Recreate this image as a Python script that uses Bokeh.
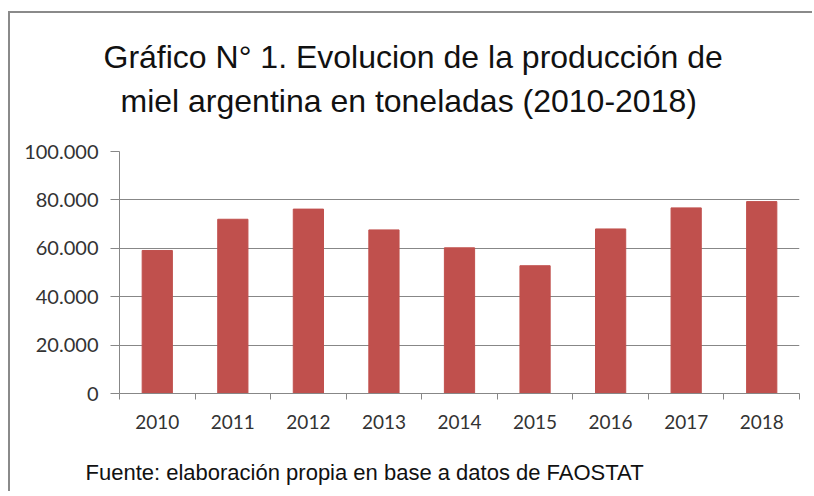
from bokeh.plotting import figure
from bokeh.models import Range1d, FixedTicker, Title
from bokeh.embed import file_html
from bokeh.resources import INLINE

# ---- data ----
years = [2010, 2011, 2012, 2013, 2014, 2015, 2016, 2017, 2018]
year_labels = ["2010", "2011", "2012", "2013", "2014", "2015", "2016", "2017", "2018"]
production = [59100, 72000, 76200, 67600, 60200, 52800, 68000, 76700, 79300]
y_ticks = [0, 20000, 40000, 60000, 80000, 100000]
y_tick_labels = ["0", "20.000", "40.000", "60.000", "80.000", "100.000"]
title_line1 = "Gráfico N° 1. Evolucion de la producción de"
title_line2 = "miel argentina en toneladas (2010-2018)"
footer = "Fuente: elaboración  propia en base a datos de FAOSTAT"

GRID = "#878787"
TXT = "#333333"

p = figure(width=804, height=480, output_backend="svg", toolbar_location=None,
           x_range=Range1d(years[0] - 0.5, years[-1] + 0.5),
           y_range=Range1d(0, 100000),
           min_border_left=109, min_border_right=15,
           min_border_top=138, min_border_bottom=100)
p.styles = {"border-left": "2px solid #8a8a8a", "border-top": "2px solid #8a8a8a",
            "margin-top": "11px", "margin-left": "8px"}
p.outline_line_color = None
p.background_fill_color = "white"
p.border_fill_color = "white"

p.vbar(x=years, top=production, width=0.4, bottom=0,
       fill_color="#C0504D", line_color="#C0504D")

# x axis: labels at centers, ticks between categories
p.xaxis.ticker = FixedTicker(ticks=years,
                             minor_ticks=[y - 0.5 for y in years] + [years[-1] + 0.5])
p.xaxis.major_label_overrides = {y: s for y, s in zip(years, year_labels)}
p.xaxis.major_tick_line_color = None
p.xaxis.minor_tick_line_color = GRID
p.xaxis.minor_tick_out = 6
p.xaxis.minor_tick_in = 0
p.xaxis.axis_line_color = GRID
p.xaxis.major_label_text_font = "Lato"
p.xaxis.major_label_text_font_size = "19px"
p.xaxis.major_label_text_color = TXT
p.xaxis.major_label_standoff = 15
p.xgrid.grid_line_color = None

# y axis
p.yaxis.ticker = FixedTicker(ticks=y_ticks)
p.yaxis.major_label_overrides = {t: s for t, s in zip(y_ticks, y_tick_labels)}
p.yaxis.major_tick_out = 9
p.yaxis.major_tick_in = 0
p.yaxis.minor_tick_line_color = None
p.yaxis.major_tick_line_color = GRID
p.yaxis.axis_line_color = GRID
p.yaxis.major_label_text_font = "Lato"
p.yaxis.major_label_text_font_size = "20px"
p.yaxis.major_label_text_color = TXT
p.yaxis.major_label_standoff = 12
p.ygrid.grid_line_color = GRID
p.ygrid.grid_line_width = 1

common = dict(text_font="Liberation Sans", text_font_style="normal",
              text_color="#111111", align="left")
# spacer panel between the frame and the two title lines
p.add_layout(Title(text=" ", text_font_size="2px", standoff=29, **common), "above")
p.add_layout(Title(text=title_line2, text_font_size="32px", offset=1,
                   standoff=0, **common), "above")
p.add_layout(Title(text=title_line1, text_font_size="32px", offset=-16,
                   standoff=12, **common), "above")
# spacer panel between the x axis and the source note
p.add_layout(Title(text=" ", text_font_size="2px", standoff=22, **common), "below")
p.add_layout(Title(text=footer, text_font_size="22px", offset=-34,
                   standoff=0, **common), "below")

open("out.html", "w").write(file_html(p, INLINE))
